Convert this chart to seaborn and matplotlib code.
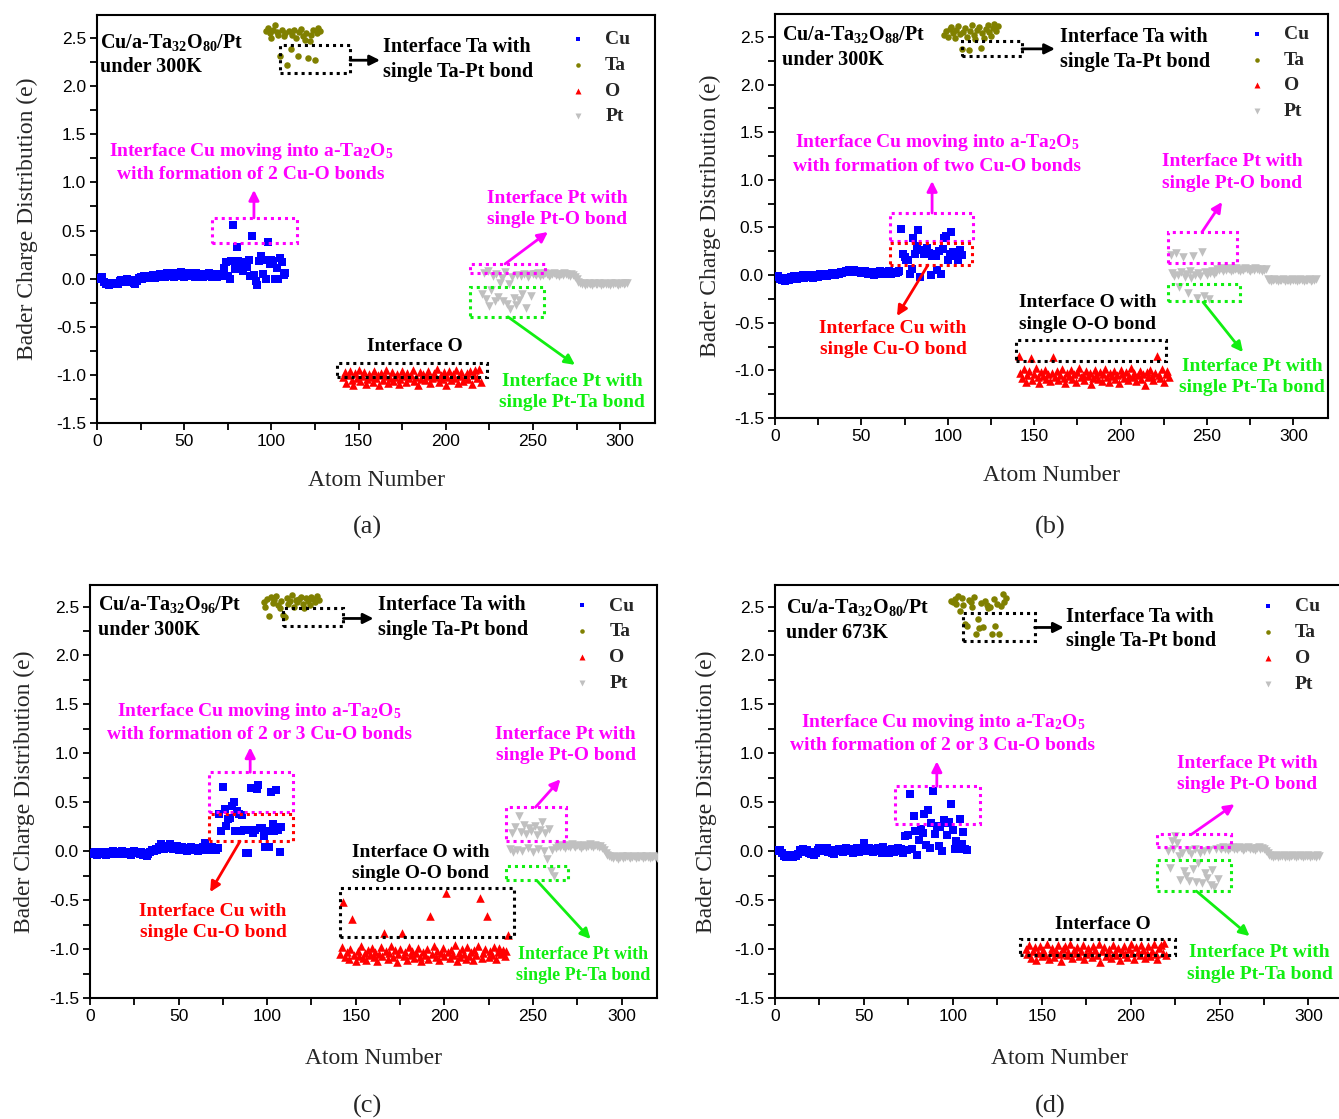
import numpy as np
import pandas as pd
import matplotlib
matplotlib.use("Agg")
import matplotlib.pyplot as plt
import seaborn as sns
from matplotlib.patches import Rectangle
from matplotlib.ticker import MultipleLocator, FormatStrFormatter

# ------------------------------------------------------------------ data
# Panel (a)  Cu/a-Ta32O80/Pt 300K
cu_a = [0.01, 0.00, 0.02, -0.03, -0.06, -0.05, -0.07, -0.05, -0.06, -0.04,
        -0.05, -0.06, -0.02, -0.01, -0.03, -0.02, 0.00, -0.01, -0.03, -0.01,
        -0.04, -0.06, -0.02, 0.01, 0.02, 0.00, 0.03, 0.02, 0.01, 0.03,
        0.02, 0.04, 0.01, 0.03, 0.02, 0.05, 0.03, 0.04, 0.02, 0.06,
        0.04, 0.03, 0.05, 0.02, 0.06, 0.04, 0.03, 0.07, 0.05, 0.02,
        0.04, 0.06, 0.03, 0.05, 0.04, 0.02, 0.06, 0.03, 0.05, 0.04,
        0.02, 0.05, 0.03, 0.06, 0.04, 0.02, 0.03, 0.05, 0.02, 0.04,
        0.03, 0.05,
        0.11, 0.17, 0.03, 0.00, 0.18, 0.56, 0.10, 0.33, 0.18, 0.11,
        0.17, 0.08, 0.17, 0.12, 0.19, 0.03, 0.44, 0.04, -0.02, -0.07,
        0.18, 0.24, 0.05, 0.19, 0.00, 0.38, 0.15, 0.19, 0.18, 0.00,
        0.11, 0.00, 0.21, 0.17, 0.04, 0.06]
ta_a = [2.57, 2.60, 2.55, 2.50, 2.58, 2.64, 2.56, 2.53, 2.31, 2.58,
        2.52, 2.55, 2.22, 2.57, 2.39, 2.53, 2.58, 2.50, 2.31, 2.56,
        2.59, 2.52, 2.48, 2.55, 2.29, 2.47, 2.53, 2.58, 2.27, 2.55,
        2.60, 2.57]
o_a = [-1.02, -0.97, -1.08, -1.00, -0.96, -1.05, -1.10, -0.98, -1.03, -0.95,
       -1.06, -1.01, -0.97, -1.09, -1.04, -0.99, -1.02, -1.07, -0.96, -1.03,
       -1.00, -1.11, -0.98, -1.05, -1.01, -0.95, -1.08, -1.03, -0.97, -1.06,
       -1.02, -0.99, -1.09, -1.04, -0.96, -1.01, -1.07, -0.98, -1.03, -1.00,
       -0.95, -1.06, -1.02, -1.10, -0.97, -1.04, -0.99, -1.05, -1.01, -0.96,
       -1.08, -1.03, -0.98, -1.02, -0.94, -1.07, -1.00, -1.04, -0.97, -1.11,
       -1.02, -0.96, -1.05, -0.99, -1.03, -0.95, -1.08, -1.01, -0.97, -1.06,
       -1.02, -0.98, -1.04, -0.96, -1.09, -1.00, -0.95, -1.03, -0.94, -1.07]
pt_a = [-0.16, 0.06, -0.21, 0.08, -0.28, -0.12, 0.03, -0.23, 0.05, -0.19,
        -0.04, 0.01, -0.23, 0.07, -0.26, -0.06, -0.32, 0.02, -0.20, -0.27,
        0.04, -0.22, 0.03, -0.16, 0.05, -0.30, 0.02, 0.04, -0.18, 0.05,
        0.05, 0.04, 0.06, 0.03, 0.05, 0.04, 0.06, 0.05, 0.03, 0.04,
        0.05, 0.06, 0.04, 0.05, 0.03, 0.05, 0.04, 0.06, 0.05, 0.04,
        0.03, 0.05, 0.04, 0.02, 0.00, -0.03,
        -0.05, -0.06, -0.05, -0.07, -0.06, -0.05, -0.06, -0.07, -0.05, -0.06,
        -0.06, -0.05, -0.07, -0.06, -0.05, -0.06, -0.06, -0.07, -0.05, -0.06,
        -0.05, -0.06, -0.07, -0.06, -0.05, -0.06, -0.05, -0.04]

# Panel (b)  Cu/a-Ta32O88/Pt 300K
cu_b = [-0.02, -0.01, -0.04, -0.05, -0.03, -0.06, -0.04, -0.05, -0.02, -0.03,
        -0.01, -0.02, -0.04, -0.01, -0.02, 0.00, -0.03, -0.01, -0.02, 0.00,
        -0.01, -0.03, -0.01, 0.00, -0.02, 0.01, -0.01, 0.00, 0.01, -0.01,
        0.01, 0.00, 0.02, 0.01, 0.00, 0.02, 0.01, 0.03, 0.02, 0.03,
        0.04, 0.03, 0.05, 0.04, 0.03, 0.05, 0.04, 0.03, 0.04, 0.02,
        0.03, 0.04, 0.02, 0.01, 0.03, 0.02, 0.00, 0.03, 0.01, 0.02,
        0.04, 0.02, 0.01, 0.03, 0.02, 0.04, 0.01, 0.02, 0.03, 0.02,
        0.03, 0.04, 0.48,
        0.22, 0.19, 0.16, 0.16, 0.01, 0.06, 0.39, 0.22, 0.30, 0.47,
        -0.02, 0.26, 0.22, 0.26, 0.28, 0.23, 0.00, 0.20, 0.22, 0.20,
        0.05, 0.25, 0.01, 0.27, 0.39, 0.41, 0.16, 0.22, 0.45, 0.24,
        0.22, 0.20, 0.16, 0.26, 0.21]
ta_b = [2.52, 2.56, 2.50, 2.58, 2.60, 2.54, 2.49, 2.57, 2.61, 2.53,
        2.37, 2.55, 2.59, 2.50, 2.36, 2.56, 2.62, 2.52, 2.48, 2.57,
        2.60, 2.38, 2.54, 2.49, 2.58, 2.62, 2.55, 2.51, 2.59, 2.64,
        2.56, 2.61]
o_b = [-0.85, -1.03, -1.08, -0.99, -1.12, -1.05, -1.01, -0.87, -1.10, -1.04,
       -0.98, -1.07, -1.13, -1.02, -1.06, -1.00, -1.09, -1.04, -1.11, -1.03,
       -0.86, -1.07, -1.01, -1.10, -1.05, -0.99, -1.08, -1.13, -1.03, -1.06,
       -1.00, -1.09, -1.04, -1.12, -1.02, -0.98, -1.07, -1.05, -1.10, -1.01,
       -1.06, -1.03, -1.14, -1.08, -1.00, -1.05, -1.09, -1.02, -1.11, -1.04,
       -0.99, -1.07, -1.12, -1.03, -1.06, -1.01, -1.09, -1.05, -1.13, -1.00,
       -1.04, -1.08, -1.02, -1.10, -1.06, -0.98, -1.07, -1.03, -1.11, -1.05,
       -1.01, -1.09, -1.04, -1.15, -1.02, -1.07, -1.00, -1.06, -1.10, -1.03,
       -0.85, -1.05, -1.08, -0.99, -1.12, -1.04, -1.01, -1.07]
pt_b = [0.21, 0.02, -0.01, 0.23, 0.00, -0.13, 0.03, 0.19, -0.02, 0.01,
        -0.19, 0.04, -0.03, 0.20, 0.00, -0.24, 0.02, -0.01, 0.24, -0.22,
        0.03, 0.00, -0.25, 0.02, 0.04, 0.01, 0.03,
        0.06, 0.05, 0.07, 0.04, 0.06, 0.05, 0.07, 0.06, 0.04, 0.05,
        0.06, 0.07, 0.05, 0.04, 0.06, 0.05, 0.07, 0.06, 0.05, 0.04,
        0.06, 0.05, 0.07, 0.06, 0.05, 0.06, 0.04, 0.05, 0.06,
        -0.04, -0.05, -0.06, -0.05, -0.04, -0.05, -0.06, -0.05, -0.05, -0.04,
        -0.06, -0.05, -0.05, -0.06, -0.04, -0.05, -0.05, -0.06, -0.05, -0.04,
        -0.05, -0.06, -0.05, -0.05, -0.04, -0.06, -0.05, -0.05, -0.04]

# Panel (c)  Cu/a-Ta32O96/Pt 300K
cu_c = [-0.02, -0.03, -0.01, -0.04, -0.02, -0.01, -0.03, -0.02, -0.04, -0.01,
        -0.02, -0.03, 0.00, -0.02, -0.01, -0.03, -0.02, 0.00, -0.01, -0.03,
        -0.02, -0.01, -0.04, -0.02, 0.00, -0.01, -0.02, -0.03, -0.01, -0.04,
        -0.02, -0.05, -0.03, -0.01, 0.01, 0.00, 0.02, 0.01, 0.04, 0.07,
        0.03, 0.02, 0.05, 0.03, 0.07, 0.04, 0.02, 0.03, 0.05, 0.01,
        0.02, 0.04, 0.01, 0.03, 0.00, 0.02, 0.04, 0.01, 0.03, 0.02,
        0.00, 0.03, 0.01, 0.04, 0.08, 0.03, 0.01, 0.02, 0.04, 0.02,
        0.01, 0.03,
        0.38, 0.21, 0.66, 0.43, 0.26, 0.33, 0.34, 0.46, 0.50, 0.21,
        0.41, 0.38, 0.21, 0.37, 0.22, -0.02, -0.02, 0.22, 0.65, 0.19,
        0.22, 0.64, 0.68, 0.24, 0.24, 0.16, 0.04, 0.21, 0.04, 0.61,
        0.28, 0.21, 0.63, 0.22, -0.01, 0.25]
ta_c = [2.55, 2.50, 2.58, 2.40, 2.60, 2.54, 2.57, 2.61, 2.52, 2.48,
        2.56, 2.41, 2.39, 2.59, 2.53, 2.56, 2.62, 2.50, 2.57, 2.55,
        2.58, 2.60, 2.53, 2.49, 2.59, 2.56, 2.52, 2.60, 2.58, 2.55,
        2.61, 2.57]
o_c = [-1.05, -0.98, -0.52, -1.08, -1.03, -1.10, -1.00, -0.69, -1.06, -1.12,
       -1.02, -1.07, -0.97, -1.09, -1.04, -1.11, -1.01, -1.06, -0.99, -1.08,
       -1.03, -1.12, -1.05, -0.98, -1.07, -0.84, -1.02, -1.10, -1.04, -0.97,
       -1.08, -1.01, -1.13, -1.05, -1.00, -0.84, -1.07, -1.03, -1.11, -0.98,
       -1.06, -1.02, -1.09, -1.04, -0.99, -1.08, -1.12, -1.03, -1.06, -1.00,
       -1.10, -0.66, -1.05, -0.97, -1.08, -1.02, -1.11, -1.04, -0.99, -1.07,
       -0.43, -1.03, -1.09, -1.01, -1.06, -0.96, -1.12, -1.04, -1.08, -1.00,
       -1.05, -1.10, -0.98, -1.07, -1.03, -1.11, -1.01, -1.06, -0.97, -0.48,
       -1.09, -1.04, -1.00, -0.66, -1.08, -1.02, -1.06, -0.98, -1.10, -1.03,
       -0.99, -1.05, -1.01, -1.07, -1.02, -0.86]
pt_c = [0.02, 0.19, -0.01, 0.25, 0.01, 0.36, 0.20, 0.00, 0.27, 0.18,
        0.03, 0.24, 0.21, -0.01, 0.26, 0.17, 0.02, 0.22, 0.30, 0.00,
        0.19, -0.08, 0.23, -0.20, 0.01, -0.25, 0.03,
        0.05, 0.04, 0.06, 0.05, 0.03, 0.06, 0.05, 0.04, 0.07, 0.05,
        0.04, 0.06, 0.05, 0.03, 0.05, 0.06, 0.04, 0.05, 0.07, 0.05,
        0.04, 0.06, 0.05, 0.04, 0.05, 0.03, 0.01, -0.02, -0.04,
        -0.05, -0.06, -0.07, -0.05, -0.06, -0.08, -0.06, -0.05, -0.07, -0.06,
        -0.05, -0.06, -0.07, -0.06, -0.05, -0.07, -0.06, -0.06, -0.05, -0.07,
        -0.06, -0.05, -0.06, -0.07, -0.06, -0.05, -0.06, -0.07]

# Panel (d)  Cu/a-Ta32O80/Pt 673K
cu_d = [0.01, 0.00, 0.01, -0.02, -0.05, -0.06, -0.04, -0.06, -0.05, -0.06,
        -0.04, -0.05, -0.03, 0.01, 0.00, 0.02, -0.01, 0.01, -0.02, -0.03,
        -0.01, -0.04, -0.02, 0.01, 0.03, 0.00, 0.02, 0.01, 0.03, -0.01,
        0.00, -0.02, -0.03, 0.01, 0.00, 0.02, 0.01, -0.01, 0.02, 0.03,
        0.01, 0.00, 0.02, -0.02, 0.01, 0.03, -0.01, 0.02, 0.01, 0.08,
        0.02, 0.00, 0.03, 0.01, -0.01, 0.02, 0.00, 0.03, 0.01, -0.02,
        0.04, 0.01, -0.01, -0.02, 0.00, 0.02, -0.01, 0.01, 0.03, 0.00,
        0.02, -0.02,
        0.16, 0.01, 0.17, 0.58, 0.02, 0.36, 0.21, -0.04, 0.11, 0.23,
        0.19, 0.38, 0.06, 0.42, 0.03, 0.29, 0.62, 0.18, 0.26, 0.05,
        0.25, 0.00, 0.32, 0.29, 0.17, 0.30, 0.48, 0.22, 0.02, 0.10,
        0.02, 0.33, 0.07, 0.20, 0.02, 0.01]
ta_d = [2.56, 2.55, 2.58, 2.53, 2.61, 2.45, 2.59, 2.52, 2.32, 2.30,
        2.57, 2.55, 2.50, 2.60, 2.22, 2.37, 2.28, 2.54, 2.29, 2.56,
        2.52, 2.48, 2.50, 2.22, 2.58, 2.30, 2.53, 2.22, 2.51, 2.63,
        2.55, 2.59]
o_d = [-1.00, -1.05, -0.96, -1.09, -1.02, -0.98, -1.11, -1.04, -0.97, -1.07,
       -1.01, -1.06, -0.95, -1.10, -1.03, -0.99, -1.08, -1.02, -0.96, -1.05,
       -1.12, -1.00, -0.97, -1.06, -1.03, -0.95, -1.09, -1.01, -1.04, -0.98,
       -1.07, -1.02, -0.96, -1.10, -1.05, -0.99, -1.03, -1.08, -0.97, -1.01,
       -1.06, -0.95, -1.13, -1.02, -0.98, -1.07, -1.04, -1.00, -1.09, -0.96,
       -1.03, -1.06, -0.99, -1.11, -1.02, -0.97, -1.05, -1.08, -1.00, -0.95,
       -1.04, -1.10, -0.98, -1.03, -1.06, -0.96, -1.01, -1.09, -1.04, -0.97,
       -1.07, -1.02, -0.95, -1.05, -1.10, -0.99, -0.96, -1.04, -0.94, -1.06]
pt_d = [0.00, -0.17, 0.10, 0.02, 0.16, 0.08, -0.05, -0.29, -0.02, -0.20,
        -0.25, 0.01, -0.30, -0.03, -0.18, 0.02, -0.31, -0.12, -0.02, -0.33,
        0.00, -0.22, -0.27, 0.01, -0.35, -0.19, -0.37, 0.02, -0.28,
        0.03, 0.02, 0.04, 0.02, 0.03, 0.01, 0.03, 0.04, 0.02, 0.03,
        0.02, 0.04, 0.03, 0.01, 0.02, 0.03, 0.04, 0.02, 0.03, 0.02,
        0.01, 0.03, 0.04, 0.02, 0.03, 0.02, 0.00, -0.02,
        -0.04, -0.05, -0.06, -0.05, -0.04, -0.06, -0.05, -0.05, -0.04, -0.06,
        -0.05, -0.06, -0.05, -0.04, -0.05, -0.06, -0.05, -0.04, -0.05, -0.06,
        -0.05, -0.05, -0.04, -0.06, -0.05, -0.05, -0.06, -0.04, -0.05]

# first atom number of each species block
start_a = dict(Cu=1, Ta=97, O=141, Pt=221)
start_b = dict(Cu=1, Ta=98, O=141, Pt=229)
start_c = dict(Cu=1, Ta=98, O=141, Pt=237)
start_d = dict(Cu=1, Ta=99, O=141, Pt=221)

elements = ["Cu", "Ta", "O", "Pt"]

# ------------------------------------------------------------------ style
sns.set_theme(style="white")
plt.rcParams['font.family'] = ['Liberation Serif', 'DejaVu Serif']
plt.rcParams['mathtext.fontset'] = 'custom'
plt.rcParams['mathtext.rm'] = 'Liberation Serif:bold'
plt.rcParams['mathtext.it'] = 'Liberation Serif:bold'
plt.rcParams['mathtext.bf'] = 'Liberation Serif:bold'
plt.rcParams['axes.unicode_minus'] = False

MAG = '#FF00FF'
GRN = '#11EE11'
RED = '#FF0000'
BLK = '#000000'
colors = {"Cu": "#0000FF", "Ta": "#808000", "O": "#FF0000", "Pt": "#C0C0C0"}
markers = {"Cu": "s", "Ta": "o", "O": "^", "Pt": "v"}
msize = {"Cu": 26, "Ta": 22, "O": 38, "Pt": 38}

TA_TXT = "Interface Ta with\nsingle Ta-Pt bond"
PTO_TXT = "Interface Pt with\nsingle Pt-O bond"
PTTA_TXT = "Interface Pt with\nsingle Pt-Ta bond"
CU1_TXT = "Interface Cu with\nsingle Cu-O bond"

W, H = 1339, 1119
fig = plt.figure(figsize=(W / 100, H / 100), dpi=100)


def px_axes(l, r, t, b):
    return fig.add_axes([l / W, 1 - b / H, (r - l) / W, (b - t) / H])


def draw_panel(ax, series, starts, ylim, texts, boxes, arrows, leg_xy,
               ylab_x, xlab_y):
    frames = []
    for el in elements:
        vals = series[el]
        frames.append(pd.DataFrame({
            "atom": np.arange(starts[el], starts[el] + len(vals)),
            "charge": vals, "element": el}))
    df = pd.concat(frames, ignore_index=True)
    for el in elements:
        sub = df[df.element == el]
        sns.scatterplot(data=sub, x="atom", y="charge", ax=ax, marker=markers[el],
                        color=colors[el], s=msize[el], linewidth=0, label=el,
                        zorder=3)
    ax.set_xlim(0, 320)
    ax.set_ylim(*ylim)
    ax.xaxis.set_major_locator(MultipleLocator(50))
    ax.xaxis.set_minor_locator(MultipleLocator(25))
    ax.yaxis.set_major_locator(MultipleLocator(0.5))
    ax.yaxis.set_minor_locator(MultipleLocator(0.25))
    ax.yaxis.set_major_formatter(FormatStrFormatter('%.1f'))
    ax.tick_params(which='both', direction='out', length=5, width=1.3,
                   colors='black', bottom=True, left=True, top=False, right=False)
    ax.tick_params(which='major', labelsize=12.5, pad=3)
    for lab in ax.get_xticklabels() + ax.get_yticklabels():
        lab.set_family('Liberation Sans')
    for sp in ax.spines.values():
        sp.set_color('black')
        sp.set_linewidth(1.5)
    ax.set_xlabel("Atom Number", fontsize=17)
    ax.set_ylabel("Bader Charge Distribution (e)", fontsize=17)
    ax.xaxis.set_label_coords(0.5, xlab_y)
    ax.yaxis.set_label_coords(ylab_x, 0.5)
    ax.xaxis.label.set_va('center')
    ax.yaxis.label.set_va('center')

    for (x, y, s, c, ha, fs) in texts:
        ax.text(x, y, s, color=c, ha=ha, va='center', fontsize=fs,
                fontweight='bold', linespacing=1.32, zorder=5)
    for (x0, x1, y0, y1, c) in boxes:
        ax.add_patch(Rectangle((x0, y0), x1 - x0, y1 - y0, fill=False, ec=c,
                               lw=2.2, ls=(0, (1, 1.3)), zorder=4))
    for (x0, y0, x1, y1, c) in arrows:
        ax.annotate('', xy=(x1, y1), xytext=(x0, y0), zorder=4,
                    arrowprops=dict(arrowstyle='-|>', color=c, lw=2,
                                    mutation_scale=15, shrinkA=0, shrinkB=0))
    leg = ax.legend(loc='upper left', bbox_to_anchor=leg_xy, frameon=False,
                    prop={'family': 'Liberation Serif', 'weight': 'bold', 'size': 14},
                    handlelength=0.8, handletextpad=1.0, labelspacing=0.42,
                    borderpad=0, borderaxespad=0, markerscale=0.7)
    return leg


# ---------------- panel (a)
ax_a = px_axes(97, 655, 15, 423)
draw_panel(
    ax_a, dict(Cu=cu_a, Ta=ta_a, O=o_a, Pt=pt_a), start_a, (-1.5, 2.74),
    texts=[
        (1.7, 2.33, "Cu/a-Ta$_{32}$O$_{80}$/Pt\nunder 300K", BLK, 'left', 14.5),
        (164, 2.28, TA_TXT, BLK, 'left', 14.5),
        (88.3, 1.21, "Interface Cu moving into a-Ta$_2$O$_5$\nwith formation of 2 Cu-O bonds", MAG, 'center', 14),
        (263.8, 0.72, PTO_TXT, MAG, 'center', 14),
        (272.4, -1.178, PTTA_TXT, GRN, 'center', 14),
        (182.3, -0.71, "Interface O", BLK, 'center', 14),
    ],
    boxes=[
        (104.9, 145.1, 2.14, 2.43, BLK),
        (65.9, 114.7, 0.371, 0.631, MAG),
        (213.9, 256.9, 0.059, 0.153, MAG),
        (213.9, 256.3, -0.397, -0.086, GRN),
        (137.6, 223.6, -1.022, -0.876, BLK),
    ],
    arrows=[
        (145.1, 2.27, 162.3, 2.27, BLK),
        (90, 0.631, 90, 0.922, MAG),
        (234, 0.153, 258.6, 0.485, MAG),
        (235.7, -0.397, 274.1, -0.896, GRN),
    ],
    leg_xy=(0.848, 0.962), ylab_x=-0.125, xlab_y=-0.142)

# ---------------- panel (b)
ax_b = px_axes(775, 1328, 14, 418)
draw_panel(
    ax_b, dict(Cu=cu_b, Ta=ta_b, O=o_b, Pt=pt_b), start_b, (-1.5, 2.74),
    texts=[
        (4, 2.39, "Cu/a-Ta$_{32}$O$_{88}$/Pt\nunder 300K", BLK, 'left', 14.5),
        (164.9, 2.37, TA_TXT, BLK, 'left', 14.5),
        (93.75, 1.276, "Interface Cu moving into a-Ta$_2$O$_5$\nwith formation of two Cu-O bonds", MAG, 'center', 14),
        (68.3, -0.667, CU1_TXT, RED, 'center', 14),
        (181, -0.404, "Interface O with\nsingle O-O bond", BLK, 'center', 14),
        (264.5, 1.077, PTO_TXT, MAG, 'center', 14),
        (276, -1.066, PTTA_TXT, GRN, 'center', 14),
    ],
    boxes=[
        (108.2, 142.9, 2.30, 2.458, BLK),
        (66.6, 114.6, 0.357, 0.651, MAG),
        (66.6, 114.0, 0.105, 0.336, RED),
        (139.5, 226.3, -0.903, -0.683, BLK),
        (227.4, 267.4, 0.126, 0.452, MAG),
        (227.4, 269.1, -0.273, -0.095, GRN),
    ],
    arrows=[
        (142.9, 2.374, 162, 2.374, BLK),
        (90.9, 0.651, 90.9, 0.987, MAG),
        (88.5, 0.105, 70.6, -0.43, RED),
        (247.1, 0.452, 258.7, 0.767, MAG),
        (247.7, -0.284, 270.8, -0.809, GRN),
    ],
    leg_xy=(0.857, 0.972), ylab_x=-0.1175, xlab_y=-0.143)

# ---------------- panel (c)
ax_c = px_axes(90, 657, 585, 998)
draw_panel(
    ax_c, dict(Cu=cu_c, Ta=ta_c, O=o_c, Pt=pt_c), start_c, (-1.5, 2.72),
    texts=[
        (4.5, 2.39, "Cu/a-Ta$_{32}$O$_{96}$/Pt\nunder 300K", BLK, 'left', 14.5),
        (162.7, 2.39, TA_TXT, BLK, 'left', 14.5),
        (95.5, 1.316, "Interface Cu moving into a-Ta$_2$O$_5$\nwith formation of 2 or 3 Cu-O bonds", MAG, 'center', 14),
        (69.5, -0.724, CU1_TXT, RED, 'center', 14),
        (186.4, -0.122, "Interface O with\nsingle O-O bond", BLK, 'center', 14),
        (268.4, 1.082, PTO_TXT, MAG, 'center', 14),
        (278.5, -1.163, PTTA_TXT, GRN, 'center', 13),
    ],
    boxes=[
        (109, 143, 2.296, 2.48, BLK),
        (67.2, 114.7, 0.398, 0.806, MAG),
        (67.2, 114.7, 0.102, 0.378, RED),
        (141.2, 239.5, -0.878, -0.378, BLK),
        (234.5, 268.4, 0.102, 0.449, MAG),
        (234.5, 269.5, -0.296, -0.153, GRN),
    ],
    arrows=[
        (143, 2.378, 160, 2.378, BLK),
        (90.4, 0.806, 90.4, 1.061, MAG),
        (84.7, 0.102, 67.8, -0.418, RED),
        (251.4, 0.449, 265.5, 0.735, MAG),
        (252.5, -0.306, 282.5, -0.898, GRN),
    ],
    leg_xy=(0.854, 0.971), ylab_x=-0.115, xlab_y=-0.146)

# ---------------- panel (d)
ax_d = px_axes(775, 1344, 585, 998)
draw_panel(
    ax_d, dict(Cu=cu_d, Ta=ta_d, O=o_d, Pt=pt_d), start_d, (-1.5, 2.72),
    texts=[
        (6.2, 2.36, "Cu/a-Ta$_{32}$O$_{80}$/Pt\nunder 673K", BLK, 'left', 14.5),
        (163.5, 2.27, TA_TXT, BLK, 'left', 14.5),
        (94.4, 1.209, "Interface Cu moving into a-Ta$_2$O$_5$\nwith formation of 2 or 3 Cu-O bonds", MAG, 'center', 14),
        (265.7, 0.786, PTO_TXT, MAG, 'center', 14),
        (272.5, -1.148, PTTA_TXT, GRN, 'center', 14),
        (184.3, -0.745, "Interface O", BLK, 'center', 14),
    ],
    boxes=[
        (105.6, 146, 2.143, 2.429, BLK),
        (67.4, 115.2, 0.276, 0.663, MAG),
        (214.6, 256.7, 0.041, 0.173, MAG),
        (214.6, 256.7, -0.408, -0.092, GRN),
        (137.6, 224.7, -1.061, -0.898, BLK),
    ],
    arrows=[
        (146, 2.286, 162.4, 2.286, BLK),
        (91, 0.663, 91, 0.918, MAG),
        (234.3, 0.173, 258.4, 0.48, MAG),
        (237, -0.408, 266.9, -0.867, GRN),
    ],
    leg_xy=(0.852, 0.969), ylab_x=-0.121, xlab_y=-0.146)

for lbl, (px, py) in zip(["(a)", "(b)", "(c)", "(d)"],
                         [(367, 527), (1050, 527), (367, 1106), (1050, 1106)]):
    fig.text(px / W, 1 - py / H, lbl, ha='center', va='center', fontsize=19)

fig.savefig("out.png", dpi=100)
